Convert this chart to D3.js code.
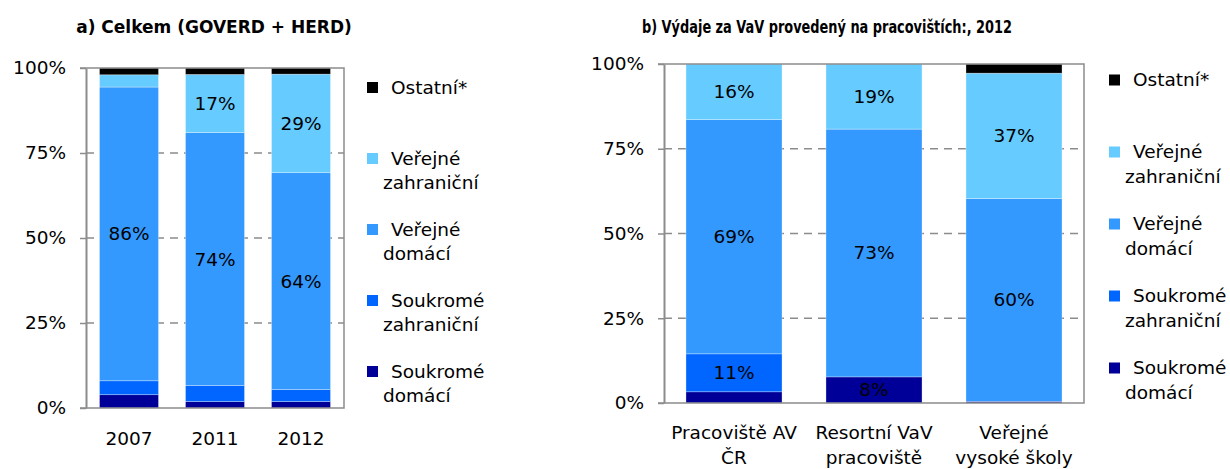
<!DOCTYPE html>
<html>
<head>
<meta charset="utf-8">
<script src="https://cdn.jsdelivr.net/npm/d3@7"></script>
<style>
  body { margin: 0; background: #fff; }
  svg { display: block; font-family: "DejaVu Sans", sans-serif; }
</style>
</head>
<body>
<div id="chart"></div>
<script>
// series, bottom to top of the stack
const seriesKeys = ["sd", "sz", "vd", "vz", "ost"];
const seriesNames = [["Soukromé", "domácí"], ["Soukromé", "zahraniční"], ["Veřejné", "domácí"], ["Veřejné", "zahraniční"], ["Ostatní*"]];
const seriesColors = ["#000099", "#0066ff", "#3399ff", "#66ccff", "#000000"];

// a) Celkem (GOVERD + HERD)
const catsA = [["2007"], ["2011"], ["2012"]];
const aSoukromeDomaci = [3.9, 1.9, 1.9];
const aSoukromeZahranicni = [4.1, 4.7, 3.5];
const aVerejneDomaci = [86.4, 74.4, 63.8];
const aVerejneZahranicni = [3.6, 17.1, 29.0];
const aOstatni = [2.0, 1.9, 1.8];

// b) by workplace, 2012
const catsB = [["Pracoviště AV", "ČR"], ["Resortní VaV", "pracoviště"], ["Veřejné", "vysoké školy"]];
const bSoukromeDomaci = [3.3, 7.7, 0.5];
const bSoukromeZahranicni = [11.2, 0, 0];
const bVerejneDomaci = [69.1, 73.1, 59.8];
const bVerejneZahranicni = [16.4, 19.2, 37.0];
const bOstatni = [0, 0, 2.7];

const yTicks = [0, 25, 50, 75, 100];
const gridColor = "#8c8c8c";

const svg = d3.select("#chart").append("svg")
    .attr("width", 1230)
    .attr("height", 469);

function rows(cols) {
    return cols[0].map((_, i) => {
        const r = { i: i };
        seriesKeys.forEach((k, j) => r[k] = cols[j][i]);
        return r;
    });
}

function panel(o) {
    const g = svg.append("g");
    const x = d3.scaleBand()
        .domain(o.cats.map((c, i) => i))
        .range([o.x0, o.x1])
        .paddingInner(0.314)
        .paddingOuter(0.157);
    const y = d3.scaleLinear().domain([0, 100]).range([o.y0, o.y1]);

    // dashed gridlines
    g.selectAll(".grid")
        .data([25, 50, 75])
        .join("line")
        .attr("x1", o.x0).attr("x2", o.x1)
        .attr("y1", d => y(d)).attr("y2", d => y(d))
        .attr("stroke", gridColor)
        .attr("stroke-width", 1.5)
        .attr("stroke-dasharray", "8,6");

    const stacked = d3.stack().keys(seriesKeys)(o.data);

    const layer = g.selectAll(".layer")
        .data(stacked)
        .join("g")
        .attr("fill", (d, i) => seriesColors[i]);

    layer.selectAll("rect")
        .data(d => d)
        .join("rect")
        .attr("x", d => x(d.data.i))
        .attr("width", x.bandwidth())
        .attr("y", d => y(d[1]))
        .attr("height", d => y(d[0]) - y(d[1]))
        .attr("stroke", "#ffffff")
        .attr("stroke-opacity", 0.5)
        .attr("stroke-width", 0.6);

    // value labels on the large segments
    layer.selectAll("text")
        .data(d => d.filter(s => s[1] - s[0] >= 5))
        .join("text")
        .attr("x", d => x(d.data.i) + x.bandwidth() / 2)
        .attr("y", d => y((d[0] + d[1]) / 2))
        .attr("dy", "0.35em")
        .attr("text-anchor", "middle")
        .attr("fill", "#000")
        .style("font-size", "18.5px")
        .text(d => Math.round(d[1] - d[0]) + "%");

    // frame: top, right, bottom
    g.append("path")
        .attr("fill", "none")
        .attr("stroke", gridColor)
        .attr("stroke-width", 1.5)
        .attr("d", `M${o.x0 - 6},${o.y1}H${o.x1}V${o.y0}H${o.x0 - 6}`);

    const yAxis = g.append("g")
        .attr("transform", `translate(${o.x0},0)`)
        .call(d3.axisLeft(y)
            .tickValues(yTicks)
            .tickFormat(d => d + "%")
            .tickSize(6)
            .tickSizeOuter(0)
            .tickPadding(14));
    yAxis.select(".domain").attr("stroke", gridColor).attr("stroke-width", 2);
    yAxis.selectAll(".tick line").attr("stroke", gridColor).attr("stroke-width", 1.5);
    yAxis.selectAll(".tick text")
        .attr("fill", "#000")
        .style("font-size", "18.5px")
        .style("font-family", "DejaVu Sans, sans-serif");

    // category labels
    const cat = g.selectAll(".cat")
        .data(o.cats)
        .join("text")
        .attr("text-anchor", "middle")
        .style("font-size", "18.5px")
        .attr("fill", "#000");
    cat.selectAll("tspan")
        .data((d, i) => d.map(t => ({ t: t, i: i })))
        .join("tspan")
        .attr("x", d => x(d.i) + x.bandwidth() / 2)
        .attr("y", (d, j) => o.y0 + o.catOffset + j * 25)
        .text(d => d.t);

    // title
    const title = g.append("text")
        .attr("x", o.titleX)
        .attr("y", o.titleY)
        .attr("text-anchor", "middle")
        .style("font-weight", "bold")
        .style("font-size", o.titleSize)
        .style("font-family", o.titleFont)
        .text(o.title);
    if (o.titleWidth) {
        title.attr("textLength", o.titleWidth).attr("lengthAdjust", "spacingAndGlyphs");
    }

    // legend
    const legendData = seriesNames.map((n, i) => ({ name: n, color: seriesColors[i] })).reverse();
    const lg = g.selectAll(".legend")
        .data(legendData)
        .join("g")
        .attr("transform", (d, i) => `translate(${o.legX},${o.legY + i * o.legStep})`);
    lg.append("rect")
        .attr("x", 0).attr("y", -5.5)
        .attr("width", 11).attr("height", 11)
        .attr("fill", d => d.color);
    const lt = lg.append("text")
        .style("font-size", "18.5px")
        .attr("fill", "#000");
    lt.selectAll("tspan")
        .data(d => d.name)
        .join("tspan")
        .attr("x", (d, j) => j === 0 ? 24 : 16)
        .attr("y", (d, j) => 6 + j * 24.5)
        .text(d => d);
}

panel({
    x0: 86, x1: 344, y0: 408, y1: 68,
    cats: catsA,
    data: rows([aSoukromeDomaci, aSoukromeZahranicni, aVerejneDomaci, aVerejneZahranicni, aOstatni]),
    catOffset: 37,
    title: "a) Celkem (GOVERD + HERD)",
    titleX: 214, titleY: 33, titleSize: "17px", titleFont: "DejaVu Sans, sans-serif",
    legX: 367, legY: 87.5, legStep: 71
});

panel({
    x0: 664, x1: 1084, y0: 403, y1: 64,
    cats: catsB,
    data: rows([bSoukromeDomaci, bSoukromeZahranicni, bVerejneDomaci, bVerejneZahranicni, bOstatni]),
    catOffset: 36,
    title: "b) Výdaje za VaV provedený na pracovištích:, 2012",
    titleX: 827, titleY: 33, titleSize: "18.5px", titleFont: "DejaVu Sans Condensed, sans-serif",
    titleWidth: 370,
    legX: 1109, legY: 80, legStep: 72
});
</script>
</body>
</html>
